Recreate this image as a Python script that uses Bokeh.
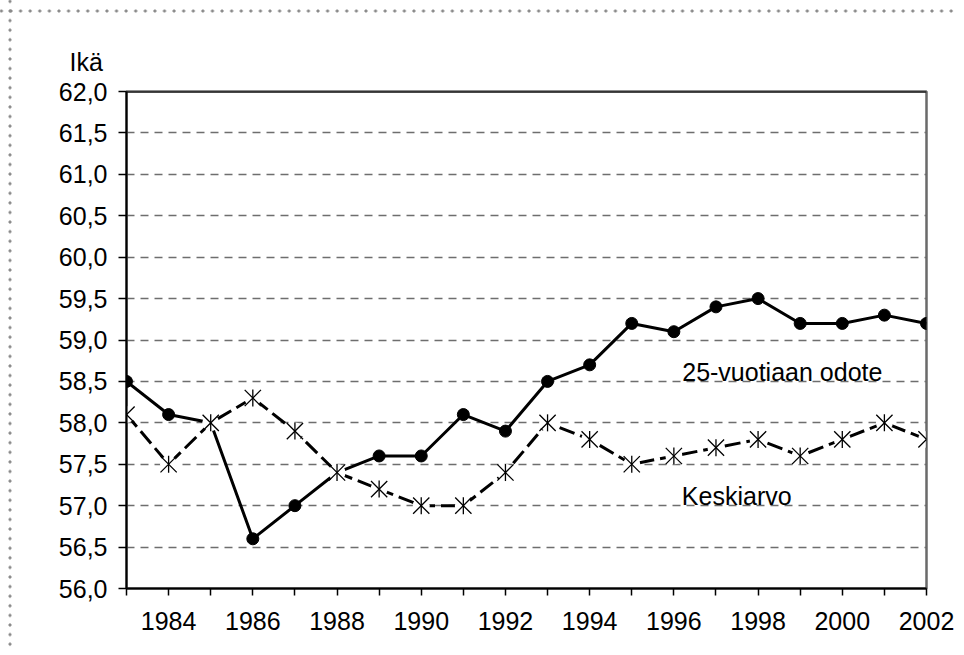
import math
from bokeh.plotting import figure
from bokeh.models import Range1d, FixedTicker, Label, Span, CustomJSTickFormatter
from bokeh.embed import file_html
from bokeh.resources import INLINE

# ---- data ----
years = [1983, 1984, 1985, 1986, 1987, 1988, 1989, 1990, 1991, 1992,
         1993, 1994, 1995, 1996, 1997, 1998, 1999, 2000, 2001, 2002]
odote = [58.5, 58.1, 58.0, 56.6, 57.0, 57.4, 57.6, 57.6, 58.1, 57.9,
         58.5, 58.7, 59.2, 59.1, 59.4, 59.5, 59.2, 59.2, 59.3, 59.2]
keskiarvo = [58.1, 57.5, 58.0, 58.3, 57.9, 57.4, 57.2, 57.0, 57.0, 57.4,
             58.0, 57.8, 57.5, 57.6, 57.7, 57.8, 57.6, 57.8, 58.0, 57.8]
y_ticks = [56.0, 56.5, 57.0, 57.5, 58.0, 58.5, 59.0, 59.5, 60.0, 60.5, 61.0, 61.5, 62.0]
y_title = "Ikä"
series_names = ["25-vuotiaan odote", "Keskiarvo"]

FONT = "Liberation Sans"
FS = "25px"

p = figure(width=956, height=647, output_backend="svg", toolbar_location=None,
           x_range=Range1d(years[0], years[-1]), y_range=Range1d(y_ticks[0], y_ticks[-1]),
           min_border_left=126, min_border_right=30, min_border_top=91, min_border_bottom=59)

p.border_fill_color = None
p.background_fill_color = "white"
p.outline_line_color = "#6a6a6a"
p.outline_line_width = 2.5

p.styles = {
    "background-image": "radial-gradient(circle at center, #8a8a8a 1.2px, rgba(255,255,255,0) 1.9px), "
                        "radial-gradient(circle at center, #8a8a8a 1.2px, rgba(255,255,255,0) 1.9px)",
    "background-size": "9.6px 6px, 6px 9.6px",
    "background-repeat": "repeat-x, repeat-y",
    "background-position": "6.2px 8px, 7px 6.2px",
}

# title used as the y-axis caption ("Ikä") above the axis
p.title.text = y_title
p.title.align = "left"
p.title.offset = -57
p.title.standoff = 31
p.title.text_font = FONT
p.title.text_font_size = FS
p.title.text_font_style = "normal"
p.title.text_color = "black"

# grid
p.xgrid.visible = False
p.ygrid.ticker = FixedTicker(ticks=y_ticks)
p.ygrid.grid_line_color = "#6e6e6e"
p.ygrid.grid_line_dash = "8 6"
p.ygrid.grid_line_width = 1.5

# axes
p.yaxis.ticker = FixedTicker(ticks=y_ticks)
p.yaxis.formatter = CustomJSTickFormatter(code="return tick.toFixed(1).replace('.', ',');")
p.xaxis.ticker = FixedTicker(ticks=years)
p.xaxis.formatter = CustomJSTickFormatter(code="return (Math.round(tick) % 2 == 0) ? String(Math.round(tick)) : '';")
for ax in (p.xaxis, p.yaxis):
    ax.axis_line_color = "black"
    ax.axis_line_width = 2
    ax.major_tick_line_color = "black"
    ax.major_tick_line_width = 1.5
    ax.major_tick_in = 0
    ax.minor_tick_in = 0
    ax.minor_tick_out = 0
    ax.major_label_text_font = FONT
    ax.major_label_text_font_size = FS
    ax.major_label_text_color = "black"
p.yaxis.major_tick_out = 8
p.yaxis.major_label_standoff = 11
p.xaxis.major_tick_out = 7
p.xaxis.major_label_standoff = 16

p.add_layout(Span(location=y_ticks[-1], dimension="width", line_color="black", line_width=2))

# series
p.line(years, odote, line_color="black", line_width=3)
p.scatter(years, odote, marker="circle", size=12, fill_color="black", line_color="black")
p.line(years, keskiarvo, line_color="black", line_width=3, line_dash="16 6")
p.scatter(years, keskiarvo, marker="circle", size=17, fill_color="white", line_color=None)
p.scatter(years, keskiarvo, marker="x", size=23, line_color="black", line_width=1.3)
p.scatter(years, keskiarvo, marker="dash", angle=math.pi / 2, size=17, line_color="black", line_width=1.3)

# texts
p.add_layout(Label(x=2001, y=58.5, x_offset=-2, y_offset=9, text=series_names[0],
                   text_align="right", text_baseline="alphabetic",
                   text_font=FONT, text_font_size=FS, text_color="black"))
p.add_layout(Label(x=1996, y=57.0, x_offset=8, y_offset=10, text=series_names[1],
                   text_align="left", text_baseline="alphabetic",
                   text_font=FONT, text_font_size=FS, text_color="black"))

open("out.html", "w").write(file_html(p, INLINE))
